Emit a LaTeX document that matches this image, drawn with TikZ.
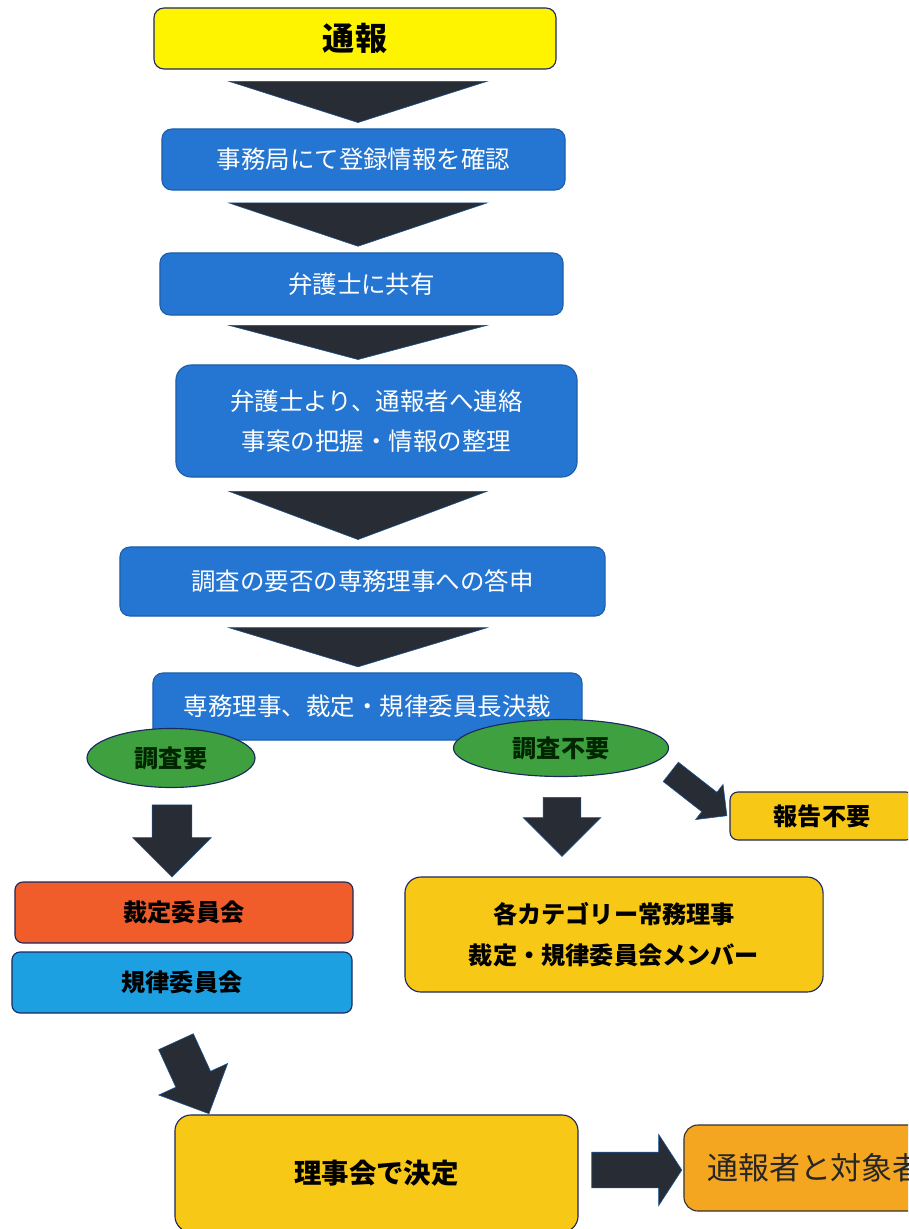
\documentclass[tikz,border=0pt]{standalone}
\usepackage{fontspec}
\setmainfont{Noto Sans CJK JP}
\usetikzlibrary{shapes.geometric}
\usetikzlibrary{shapes.arrows}
\usetikzlibrary{calc}

\definecolor{toptone}{RGB}{255,244,0}
\definecolor{stepblue}{RGB}{36,118,210}
\definecolor{gold}{RGB}{248,200,22}
\definecolor{redorange}{RGB}{240,92,42}
\definecolor{skyblue}{RGB}{28,160,226}
\definecolor{amber}{RGB}{245,166,32}
\definecolor{leaf}{RGB}{62,160,62}
\definecolor{navy}{RGB}{28,40,96}
\definecolor{chevdark}{RGB}{40,44,52}

\begin{document}
\begin{tikzpicture}[x=0.025cm,y=-0.025cm,
  stage/.style 2 args={
    rectangle,
    rounded corners=0.25cm,
    draw=#2,
    fill=#1,
    line width=0.8pt,
    align=center,
    inner sep=0pt},
  bluetxt/.style={font=\fontsize{17.4pt}{28.5pt}\selectfont, text=white},
  boldtxt/.style={font=\fontsize{17.2pt}{29pt}\selectfont\bfseries, text=black},
  pill/.style={ellipse, draw=navy, fill=leaf, line width=0.8pt, inner sep=0pt,
    font=\fontsize{17.2pt}{20pt}\selectfont\bfseries, text={black!85!green}},
  chev/.style={fill=chevdark, draw=stepblue!70!black, line width=0.4pt},
  blockarr/.style n args={3}{
    single arrow,
    fill=chevdark,
    draw=stepblue!70!black,
    line width=0.4pt,
    minimum height=#1,
    inner xsep=0pt,
    inner ysep=#2,
    single arrow head extend=#3,
    text height=0pt,
    text depth=0pt}]
  \useasboundingbox (0,0) rectangle (908,1229);
  \fill[white] (0,0) rectangle (908,1229);
  \clip (0,0) rectangle (908,1229);
  % draw the main chain of steps
  \node[stage={toptone}{navy}, minimum width=10.05cm, minimum height=1.525cm,
    font=\fontsize{22.8pt}{26pt}\selectfont\bfseries] (b1) at (355,38.5) {通報};
  \node[stage={stepblue}{stepblue!80!black}, bluetxt, minimum width=10.075cm, minimum height=1.525cm]
    (b2) at (363.5,159.5) {事務局にて登録情報を確認};
  \node[stage={stepblue}{stepblue!80!black}, bluetxt, minimum width=10.075cm, minimum height=1.55cm]
    (b3) at (361.5,284) {弁護士に共有};
  \node[stage={stepblue}{stepblue!80!black}, bluetxt, rounded corners=0.38cm,
    minimum width=10.025cm, minimum height=2.8cm]
    (b4) at (376.5,421) {弁護士より、通報者へ連絡\\事案の把握・情報の整理};
  \node[stage={stepblue}{stepblue!80!black}, bluetxt, minimum width=12.125cm, minimum height=1.725cm]
    (b5) at (362.5,581.5) {調査の要否の専務理事への答申};
  \node[stage={stepblue}{stepblue!80!black}, bluetxt, minimum width=10.725cm, minimum height=1.675cm]
    (b6) at (367.5,706.5) {専務理事、裁定・規律委員長決裁};
  % draw the chevrons between the steps
  \coordinate (mid) at (358,0);
  \foreach \a/\b in {b1/b2,b2/b3,b3/b4,b4/b5,b5/b6}
    \fill[chev] ($(\a.south -| mid)!0.2!(\b.north -| mid)$) ++(-129,0) -- ++(258,0)
      -- ($(\a.south -| mid)!0.9!(\b.north -| mid)$) -- cycle;
  % draw the two outcomes
  \node[pill, minimum width=4.2cm, minimum height=1.475cm] (e1) at (171,758) {調査要};
  \node[pill, minimum width=5.375cm, minimum height=1.425cm] (e2) at (561,748) {調査不要};
  % draw the boxes below the outcomes
  \node[stage={gold}{navy}, boldtxt, rounded corners=0.2cm, minimum width=4.6cm, minimum height=1.2cm]
    (b7) at (822,816) {報告不要};
  \node[stage={gold}{navy}, boldtxt, rounded corners=0.4cm, minimum width=10.45cm, minimum height=2.875cm]
    (b8) at (614,934.5) {各カテゴリー常務理事\\裁定・規律委員会メンバー};
  \node[stage={redorange}{navy}, boldtxt, rounded corners=0.2cm, minimum width=8.45cm, minimum height=1.525cm]
    (b9) at (184,912.5) {裁定委員会};
  \node[stage={skyblue}{navy}, boldtxt, rounded corners=0.2cm, minimum width=8.5cm, minimum height=1.525cm]
    (b10) at (182,982.5) {規律委員会};
  \node[stage={gold}{navy}, boldtxt, rounded corners=0.4cm, minimum width=10.075cm, minimum height=2.925cm,
    font=\fontsize{19.5pt}{22pt}\selectfont\bfseries] (b11) at (376.5,1173.5) {理事会で決定};
  \node[stage={amber}{black!80}, rounded corners=0.35cm, minimum width=6.575cm, minimum height=2.15cm,
    font=\fontsize{22pt}{26pt}\selectfont, text=black!85] (b12) at (815.5,1168) {通報者と対象者};
  % draw the block arrows
  \node[blockarr={1.8cm}{0.4875cm}{0.4875cm}, rotate=-90] (a1) at (172,831) {};
  \node[blockarr={1.475cm}{0.4625cm}{0.5cm}, rotate=-90] (a2) at (562,817.5) {};
  \node[blockarr={1.78cm}{0.3cm}{0.25cm}, rotate=-38] (a3) at (694,790) {};
  \node[blockarr={1.98cm}{0.47cm}{0.47cm}, rotate=-65.4] (a4) at (188.5,1069) {};
  \node[blockarr={2.25cm}{0.4375cm}{0.45cm}, single arrow tip angle=114] (a5) at (631,1170) {};
\end{tikzpicture}
\end{document}
